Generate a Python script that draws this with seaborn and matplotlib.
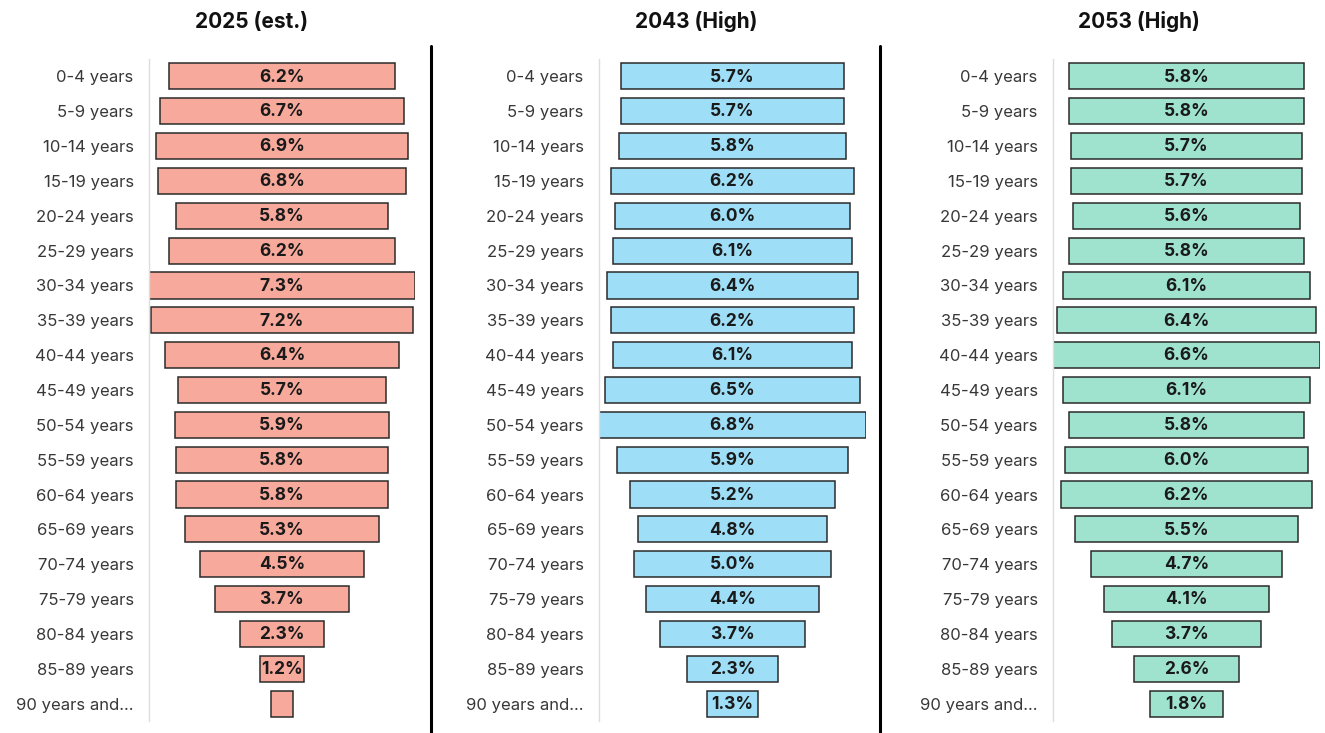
import matplotlib
matplotlib.use("Agg")
import matplotlib.pyplot as plt
from matplotlib.lines import Line2D
import seaborn as sns
import pandas as pd

sns.set_theme(style="white")
plt.rcParams['font.family'] = ['Inter', 'DejaVu Sans']

age_groups = ["0-4 years", "5-9 years", "10-14 years", "15-19 years", "20-24 years",
              "25-29 years", "30-34 years", "35-39 years", "40-44 years", "45-49 years",
              "50-54 years", "55-59 years", "60-64 years", "65-69 years", "70-74 years",
              "75-79 years", "80-84 years", "85-89 years", "90 years and..."]

pct_2025 = [6.2, 6.7, 6.9, 6.8, 5.8, 6.2, 7.3, 7.2, 6.4, 5.7, 5.9, 5.8, 5.8, 5.3, 4.5, 3.7, 2.3, 1.2, 0.6]
pct_2043 = [5.7, 5.7, 5.8, 6.2, 6.0, 6.1, 6.4, 6.2, 6.1, 6.5, 6.8, 5.9, 5.2, 4.8, 5.0, 4.4, 3.7, 2.3, 1.3]
pct_2053 = [5.8, 5.8, 5.7, 5.7, 5.6, 5.8, 6.1, 6.4, 6.6, 6.1, 5.8, 6.0, 6.2, 5.5, 4.7, 4.1, 3.7, 2.6, 1.8]

titles = ["2025 (est.)", "2043 (High)", "2053 (High)"]
colors = ["#F7A99C", "#9EDEF7", "#9FE2CD"]
show_label_min = 1.0

W, H = 1325, 733
fig = plt.figure(figsize=(W / 100, H / 100), dpi=100)

axes_px = [(149, 266), (599, 267), (1053, 267)]
title_x = [252, 696, 1139]
ax_top, ax_bot = 59, 721

for i, (vals, title, color) in enumerate(zip([pct_2025, pct_2043, pct_2053], titles, colors)):
    left, width = axes_px[i]
    ax = fig.add_axes([left / W, (H - ax_bot) / H, width / W, (ax_bot - ax_top) / H])
    df = pd.DataFrame({"age": age_groups, "pct": vals})
    sns.barplot(data=df, x="pct", y="age", orient="h", color=color, width=0.75,
                edgecolor="#2b2b2b", linewidth=1.1, saturation=1, ax=ax)
    for p in ax.patches:
        w = p.get_width()
        p.set_x(-w / 2)
    m = max(vals) / 2
    ax.set_xlim(-m, m)
    ax.set_ylim(len(age_groups) - 0.5, -0.5)
    for j, v in enumerate(vals):
        if v >= show_label_min:
            ax.text(0, j + 0.02, f"{v:.1f}%", ha="center", va="center", fontsize=12.5,
                    fontweight="bold", color="#1a1a1a")
    ax.set_xlabel("")
    ax.set_ylabel("")
    ax.set_xticks([])
    ax.tick_params(axis="y", length=0, pad=11, labelsize=12, labelcolor="#383838")
    for s in ["top", "right", "bottom"]:
        ax.spines[s].set_visible(False)
    ax.spines["left"].set_color("#dddddd")
    ax.spines["left"].set_linewidth(1.0)
    fig.text(title_x[i] / W, 1 - 22 / H, title, ha="center", va="center",
             fontsize=15, fontweight="bold", color="#111111")

for xs in [431, 880]:
    fig.add_artist(Line2D([xs / W, xs / W], [0, 1 - 46 / H], color="black", linewidth=2.2))

fig.savefig("out.png", dpi=100, facecolor="white")
